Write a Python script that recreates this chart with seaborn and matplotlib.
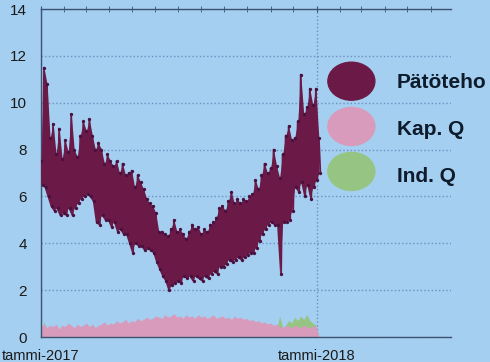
import pandas as pd
import seaborn as sns
from matplotlib import pyplot as plt
from matplotlib.patches import Ellipse
from matplotlib.ticker import MultipleLocator
import matplotlib.dates as mdates

# readings every 4 days from tammi-2017, daily peak / trough
start = "2017-01-01"
paato_hi = [7.5, 11.5, 10.8, 8.5, 9.1, 7.8, 8.9, 7.6, 8.4, 7.9,
            9.5, 8.0, 7.7, 8.6, 9.2, 8.8, 9.3, 8.6, 8.0, 8.3,
            8.0, 7.4, 7.8, 7.5, 7.3, 7.5, 7.0, 7.4, 6.9, 7.0,
            7.1, 6.4, 6.9, 6.6, 6.3, 5.9, 5.7, 5.6, 5.3, 4.5,
            4.5, 4.4, 4.3, 4.6, 5.0, 4.5, 4.6, 4.4, 4.2, 4.5,
            4.8, 4.6, 4.7, 4.4, 4.6, 4.5, 4.8, 4.9, 5.1, 5.5,
            5.6, 5.4, 5.8, 6.2, 5.7, 5.9, 5.7, 5.9, 5.8, 6.0,
            6.1, 6.7, 6.3, 6.9, 7.4, 7.0, 7.2, 8.0, 7.3, 6.8,
            7.8, 8.6, 9.0, 8.4, 8.5, 9.2, 11.2, 9.5, 9.8, 10.6,
            9.9, 10.6, 8.5]
paato_lo = [6.5, 6.4, 6.0, 5.6, 5.4, 5.5, 5.2, 5.3, 5.2, 5.5,
            5.2, 5.5, 5.7, 5.9, 6.0, 6.1, 6.0, 5.8, 4.9, 4.8,
            5.2, 5.0, 5.0, 4.7, 4.9, 4.5, 4.6, 4.4, 4.4, 4.0,
            3.6, 4.0, 3.9, 3.9, 3.7, 3.8, 3.7, 3.6, 3.2, 2.9,
            2.6, 2.4, 2.0, 2.2, 2.3, 2.4, 2.3, 2.6, 2.5, 2.6,
            2.4, 2.6, 2.5, 2.4, 2.6, 2.5, 2.7, 2.8, 2.7, 3.0,
            3.0, 3.1, 3.3, 3.2, 3.3, 3.4, 3.3, 3.4, 3.5, 3.6,
            3.6, 3.8, 4.1, 4.4, 4.6, 4.8, 4.9, 4.8, 4.8, 2.7,
            4.9, 4.9, 5.0, 5.4, 6.4, 6.2, 6.6, 6.0, 6.5, 5.9,
            6.4, 6.7, 7.0]
kap_q = [0.45, 0.55, 0.40, 0.50, 0.45, 0.55, 0.35, 0.50, 0.45, 0.60,
         0.50, 0.40, 0.55, 0.45, 0.50, 0.60, 0.45, 0.55, 0.40, 0.50,
         0.55, 0.65, 0.50, 0.60, 0.55, 0.70, 0.60, 0.65, 0.75, 0.60,
         0.70, 0.65, 0.80, 0.70, 0.75, 0.85, 0.75, 0.80, 0.90, 0.85,
         0.80, 0.95, 0.85, 0.90, 1.00, 0.85, 0.90, 0.80, 0.95, 0.85,
         0.90, 0.80, 0.95, 0.85, 0.90, 0.80, 0.85, 0.95, 0.80, 0.85,
         0.90, 0.80, 0.85, 0.75, 0.90, 0.80, 0.85, 0.75, 0.80, 0.70,
         0.75, 0.65, 0.70, 0.60, 0.65, 0.55, 0.60, 0.50, 0.55, 0.45,
         0.40, 0.50, 0.45, 0.40, 0.50, 0.45, 0.40, 0.50, 0.45, 0.40,
         0.45, 0.50, 0.0]
ind_q = [0.20, 0.65, 0.30, 0.10, 0.05, 0.15, 0.10, 0.05, 0.10, 0.05,
         0.10, 0.05, 0.10, 0.05, 0.10, 0.05, 0.10, 0.05, 0.10, 0.05,
         0.10, 0.05, 0.10, 0.05, 0.10, 0.05, 0.10, 0.05, 0.10, 0.05,
         0.10, 0.05, 0.10, 0.05, 0.10, 0.05, 0.10, 0.05, 0.10, 0.05,
         0.10, 0.05, 0.10, 0.05, 0.10, 0.05, 0.10, 0.05, 0.10, 0.05,
         0.10, 0.05, 0.10, 0.05, 0.10, 0.05, 0.10, 0.05, 0.10, 0.05,
         0.10, 0.05, 0.10, 0.05, 0.10, 0.05, 0.10, 0.05, 0.10, 0.05,
         0.10, 0.05, 0.10, 0.05, 0.10, 0.05, 0.10, 0.05, 0.30, 0.90,
         0.40, 0.50, 0.70, 0.60, 0.85, 0.70, 0.90, 0.75, 0.95, 0.70,
         0.60, 0.50, 0.0]
series_names = ["Pätöteho", "Kap. Q", "Ind. Q"]
series_colors = ["#6b1a47", "#d99bbb", "#96c483"]
x_ticks = ["2017-01-01", "2018-01-01"]
x_tick_labels = ["tammi-2017", "tammi-2018"]
y_ticks = [0, 2, 4, 6, 8, 10, 12, 14]

bg = "#a4cff0"
sns.set_style("white", {"axes.facecolor": bg, "figure.facecolor": bg})
plt.rcParams['font.family'] = ['Liberation Sans', 'DejaVu Sans']

dates = pd.date_range(start, periods=len(paato_hi), freq="4D")
df_hi = pd.DataFrame({"aika": dates, "kW": paato_hi})
df_lo = pd.DataFrame({"aika": dates + pd.Timedelta(days=2), "kW": paato_lo})
df = pd.concat([df_hi, df_lo]).sort_values("aika")

fig = plt.figure(figsize=(4.9, 3.62), dpi=100)
ax = fig.add_axes([0.0837, 0.069, 0.8367, 0.906])

ax.fill_between(dates, 0, ind_q, color=series_colors[2], lw=0, zorder=1)
ax.fill_between(dates, 0, kap_q, color=series_colors[1], lw=0, zorder=2)
# body of the daily band, zigzag on top gives the ragged edges
ax.fill_between(dates, paato_lo, paato_hi, color=series_colors[0], lw=0, zorder=3)
sns.lineplot(data=df, x="aika", y="kW", color=series_colors[0], lw=1.3,
             marker="o", markersize=2.4, markeredgewidth=0,
             markerfacecolor="#4a1040", ax=ax, zorder=4)

ax.set_xlim(pd.Timestamp("2017-01-01"), pd.Timestamp("2018-06-28"))
ax.set_ylim(0, 14)
ax.set_xlabel("")
ax.set_ylabel("")
ax.set_yticks(y_ticks)
ax.yaxis.set_minor_locator(MultipleLocator(0.5))
ax.set_xticks(pd.to_datetime(x_ticks))
ax.set_xticklabels(x_tick_labels)
ax.xaxis.set_minor_locator(mdates.MonthLocator())

spine_c = "#3e5272"
for s in ["left", "bottom", "top"]:
    ax.spines[s].set_color(spine_c)
    ax.spines[s].set_linewidth(1)
ax.spines["right"].set_visible(False)
ax.tick_params(axis="y", which="major", length=6, direction="out", color=spine_c,
               labelsize=11, labelcolor="#1a1a1a", pad=4)
ax.tick_params(axis="y", which="minor", length=3, direction="out", color=spine_c)
ax.tick_params(axis="x", which="both", length=5, direction="inout", color=spine_c,
               top=True, labelsize=10.5, labelcolor="#1a1a1a", pad=6)

ax.set_axisbelow(True)
ax.grid(axis="y", which="major", ls=":", color="#6f8fc2", lw=1)
ax.grid(axis="x", which="major", ls=":", color="#6f8fc2", lw=1)

# legend drawn as big ellipses
legend_y = [0.780, 0.642, 0.505]
text_y = [0.759, 0.616, 0.473]
for name, c, ey, ty in zip(series_names, series_colors, legend_y, text_y):
    ax.add_patch(Ellipse((0.757, ey), 0.1146, 0.1159, transform=ax.transAxes,
                         color=c, clip_on=False, zorder=5))
    ax.text(0.868, ty, name, transform=ax.transAxes, fontsize=15, fontweight="bold",
            color="#0d1b2a", va="baseline", ha="left", clip_on=False, zorder=6)

fig.savefig("out.png", dpi=100)
